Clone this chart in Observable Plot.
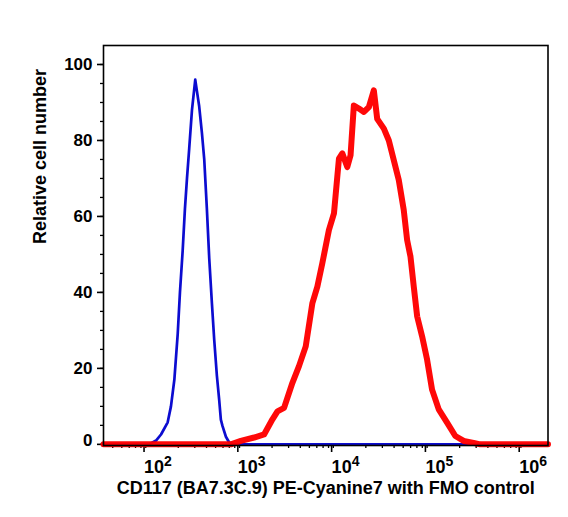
<!DOCTYPE html>
<html>
<head>
<meta charset="utf-8">
<script src="https://cdn.jsdelivr.net/npm/d3@7"></script>
<script src="https://cdn.jsdelivr.net/npm/@observablehq/plot@0.6"></script>
<style>
  html, body { margin: 0; padding: 0; background: #fff; }
  svg { display: block; }
</style>
</head>
<body>
<div id="chart"></div>
<script>
// FMO control (blue)
const blueX = [31.9, 97.5, 115.9, 130.9, 154.2, 167.1, 181.6, 197.2, 208.4, 222.8, 235.5, 247.7, 261.8, 279.9, 303.4, 316.2, 334.2, 357.3, 378.4, 403.6, 427.6, 457.1, 483.1, 516.4, 545.8, 568.9, 592.9, 644.2, 698.2, 783.4, 1750000];
const blueY = [0, 0, 1, 2.6, 5.8, 10, 17, 29, 40, 51, 62, 70, 78, 88, 96, 93, 89, 82, 75, 62, 49, 37, 27.6, 18, 11.8, 6.5, 4.8, 2, 0.5, 0, 0];
// CD117 stained (red)
const redX = [31.9, 727.8, 929, 1288, 1644, 2019, 2284, 2685, 3297, 3873, 4571, 5383, 6081, 6871, 8072, 9141, 10328, 11220, 12677, 13740, 14894, 16866, 19055, 21528, 24322, 26424, 31117, 35156, 39719, 44875, 50699, 55081, 59841, 64863, 70469, 79616, 89950, 101625, 119674, 146893, 179887, 220800, 281838, 331894, 1750000];
const redY = [0, 0, 0.9, 1.8, 2.6, 6.6, 8.7, 9.6, 16.2, 20.6, 25.8, 37.2, 41.5, 47.7, 56.4, 60.8, 75.2, 76.6, 73, 76.1, 89.2, 88.4, 87.5, 88.8, 93.2, 85.7, 83.1, 80, 74.8, 69.6, 61.7, 53.8, 49.4, 41.5, 33.7, 28.4, 22.3, 14.4, 9.2, 5.7, 2.2, 0.9, 0.4, 0, 0];

const xMajor = [100, 1000, 10000, 100000, 1000000];
const xDecades = [10, 100, 1000, 10000, 100000, 1000000];
const xMinorMult = [2, 3, 4, 5, 6, 7, 8, 9];
const yMajor = [20, 40, 60, 80, 100];
const yZero = [0];
const yMinorStep = 5;

const xTitle = "CD117 (BA7.3C.9) PE-Cyanine7 with FMO control";
const yTitle = "Relative cell number";

const blue = blueX.map((x, i) => ({x, y: blueY[i]}));
const red = redX.map((x, i) => ({x, y: redY[i]}));
const xMinor = xDecades.flatMap(d => xMinorMult.map(m => d * m)).filter(v => v > 31.9 && v < 1750000);
const yMinor = d3.range(0, 105, yMinorStep);

const font = "'Liberation Sans', Arial, Helvetica, sans-serif";

const chart = Plot.plot({
  width: 568,
  height: 517,
  marginLeft: 103,
  marginRight: 20.5,
  marginTop: 45,
  marginBottom: 72,
  style: {fontFamily: font, fontWeight: "bold", fontSize: "17px", color: "black", background: "white"},
  x: {type: "log", domain: [31.9, 1750000]},
  y: {domain: [-0.3, 105]},
  marks: [
    // minor ticks
    Plot.axisX({ticks: xMinor, tickSize: 3, strokeWidth: 1.3, fill: "none", label: null}),
    Plot.axisY({ticks: yMinor, tickSize: 3, strokeWidth: 1.3, fill: "none", label: null}),
    // major ticks
    Plot.axisX({ticks: xMajor, tickSize: 7, strokeWidth: 1.6, tickPadding: 8, textAnchor: "start", dx: -6,
      tickFormat: d => String(Math.round(Math.log10(d))), fontSize: 18, label: null}),
    Plot.axisY({ticks: yMajor, tickSize: 6, strokeWidth: 1.6, tickPadding: 5, fontSize: 17, label: null}),
    Plot.axisY({ticks: yZero, tickSize: 6, strokeWidth: 1.6, fill: "none", label: null}),
    Plot.axisY({ticks: yZero, tickSize: 0, tickPadding: 11, dy: -4, fontSize: 17, label: null}),
    // curves
    Plot.line(blue, {x: "x", y: "y", stroke: "#0c0cd0", strokeWidth: 2.7, strokeLinejoin: "round"}),
    Plot.line(red, {x: "x", y: "y", stroke: "#ff0000", strokeWidth: 6, strokeLinejoin: "round", strokeOpacity: 0.97}),
    Plot.frame({stroke: "black", strokeWidth: 1.6}),
    // titles
    Plot.text([xTitle], {frameAnchor: "bottom", dy: 48, text: d => d, fontSize: 18, fontWeight: "bold"}),
    Plot.text([yTitle], {frameAnchor: "left", dx: -63.5, dy: -1.5, rotate: -90, text: d => d, fontSize: 18, fontWeight: "bold"})
  ]
});

document.getElementById("chart").appendChild(chart);

// Render x tick labels as 10 with a raised exponent
d3.select(chart).selectAll('g[aria-label="x-axis tick label"] text').each(function() {
  const exp = this.textContent.trim();
  const t = d3.select(this);
  t.text(null);
  t.append("tspan").text("10");
  t.append("tspan").attr("dy", "-0.5em").attr("font-size", "14px").text(exp);
});
</script>
</body>
</html>
